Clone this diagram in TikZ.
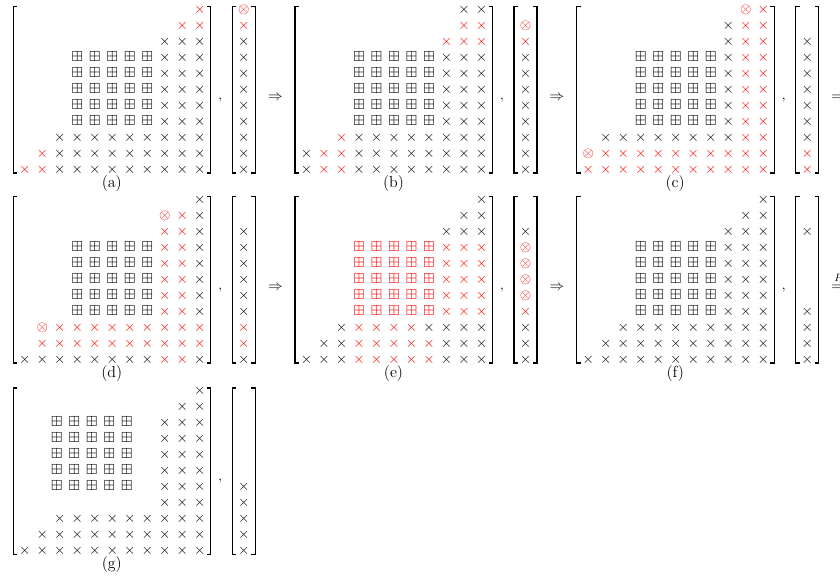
\documentclass[tikz,border=0pt]{standalone}
\usepackage{amssymb}
\usepackage{tikz}
\colorlet{hlred}{red}

\begin{document}
\begin{tikzpicture}[x=0.75pt, y=-0.75pt,
  every node/.style={inner sep=0pt},
  cell/.style={anchor=base, font=\fontsize{10.95}{13}\selectfont},
  sym x/.style={cell, node contents={$\times$}},
  sym r/.style={cell, text=hlred, node contents={$\times$}},
  sym b/.style={cell, node contents={$\boxplus$}},
  sym B/.style={cell, text=hlred, node contents={$\boxplus$}},
  sym g/.style={sym b, xshift=-2.25pt},
  sym o/.style={cell, text=hlred, node contents={$\otimes$}},
  brk/.style={line width=0.8pt},
  sublabel/.style={font=\large},
  stepto/.style={anchor=base, font=\fontsize{10.95}{13}\selectfont}
]
  \useasboundingbox (0,0) rectangle (840,579);

  % Macros for one panel (origin = left bracket, first row)
  % Codes: . empty, x cross, r red cross, b/B boxplus, g shifted boxplus, o red otimes
  \newcommand{\mrow}[3]{%
    \foreach \t [count=\c] in {#3}{%
      \if.\t\else\node[name=#1-#2-\c, at={({11.5+17.5*(\c-1)},{16*(#2-1)+3.3})}, sym \t];\fi}}
  \newcommand{\mvec}[2]{%
    \foreach \t [count=\c] in {#2}{%
      \if.\t\else\node[name=#1-v-\c, at={(230.5,{16*(\c-1)+3.3})}, sym \t];\fi}}
  \newcommand{\pbrk}{%
    \draw[brk] (4,-3.5) -| (0,163) -- ++(4,0);
    \draw[brk] (193.5,-3.5) -| (197.5,163) -- ++(-4,0);
    \draw[brk] (223,-3.5) -| (219,163) -- ++(4,0);
    \draw[brk] (238,-3.5) -| (242,163) -- ++(-4,0);}
  \newcommand{\pfoot}[2]{%
    \node[anchor=base] (#1-comma) at (207,89) {,};
    \node[sublabel] (#1-label) at (98.5,173.3) {(#2)};}

  % (a)
  \begin{scope}[shift={(13.3,10)}]
    \mrow{a}{1}{.,.,.,.,.,.,.,.,.,.,r}
    \mrow{a}{2}{.,.,.,.,.,.,.,.,.,r,r}
    \mrow{a}{3}{.,.,.,.,.,.,.,.,x,x,x}
    \foreach \r in {4,...,8}{\mrow{a}{\r}{.,.,.,b,b,b,b,b,x,x,x}}
    \mrow{a}{9}{.,.,x,x,x,x,x,x,x,x,x}
    \mrow{a}{10}{.,r,x,x,x,x,x,x,x,x,x}
    \mrow{a}{11}{r,r,x,x,x,x,x,x,x,x,x}
    \mvec{a}{o,r,x,x,x,x,x,x,x,x,x}
    \pbrk
    \pfoot{a}{a}
    \node[stepto] (a-next) at (262,90) {$\Rightarrow$};
  \end{scope}

  % (b)
  \begin{scope}[shift={(295,10)}]
    \mrow{b}{1}{.,.,.,.,.,.,.,.,.,x,x}
    \mrow{b}{2}{.,.,.,.,.,.,.,.,.,r,r}
    \mrow{b}{3}{.,.,.,.,.,.,.,.,r,r,r}
    \foreach \r in {4,...,8}{\mrow{b}{\r}{.,.,.,b,b,b,b,b,x,x,x}}
    \mrow{b}{9}{.,.,r,x,x,x,x,x,x,x,x}
    \mrow{b}{10}{x,r,r,x,x,x,x,x,x,x,x}
    \mrow{b}{11}{x,r,r,x,x,x,x,x,x,x,x}
    \mvec{b}{.,o,r,x,x,x,x,x,x,x,x}
    \pbrk
    \pfoot{b}{b}
    \node[stepto] (b-next) at (262,90) {$\Rightarrow$};
  \end{scope}

  % (c)
  \begin{scope}[shift={(576.7,10)}]
    \mrow{c}{1}{.,.,.,.,.,.,.,.,.,o,r}
    \mrow{c}{2}{.,.,.,.,.,.,.,.,x,r,r}
    \mrow{c}{3}{.,.,.,.,.,.,.,.,x,r,r}
    \foreach \r in {4,...,8}{\mrow{c}{\r}{.,.,.,b,b,b,b,b,x,r,r}}
    \mrow{c}{9}{.,x,x,x,x,x,x,x,x,r,r}
    \mrow{c}{10}{o,r,r,r,r,r,r,r,r,r,r}
    \mrow{c}{11}{r,r,r,r,r,r,r,r,r,r,r}
    \mvec{c}{.,.,x,x,x,x,x,x,x,r,r}
    \pbrk
    \pfoot{c}{c}
    \node[stepto] (c-next) at (262,90) {$\Rightarrow$};
  \end{scope}

  % (d)
  \begin{scope}[shift={(13.3,200)}]
    \mrow{d}{1}{.,.,.,.,.,.,.,.,.,.,x}
    \mrow{d}{2}{.,.,.,.,.,.,.,.,o,r,x}
    \mrow{d}{3}{.,.,.,.,.,.,.,.,r,r,x}
    \foreach \r in {4,...,8}{\mrow{d}{\r}{.,.,.,b,b,b,b,b,r,r,x}}
    \mrow{d}{9}{.,o,r,r,r,r,r,r,r,r,r}
    \mrow{d}{10}{.,r,r,r,r,r,r,r,r,r,r}
    \mrow{d}{11}{x,x,x,x,x,x,x,x,r,r,x}
    \mvec{d}{.,.,x,x,x,x,x,x,r,r,x}
    \pbrk
    \pfoot{d}{d}
    \node[stepto] (d-next) at (262,90) {$\Rightarrow$};
  \end{scope}

  % (e)
  \begin{scope}[shift={(295,200)}]
    \mrow{e}{1}{.,.,.,.,.,.,.,.,.,.,x}
    \mrow{e}{2}{.,.,.,.,.,.,.,.,.,x,x}
    \mrow{e}{3}{.,.,.,.,.,.,.,.,x,x,x}
    \foreach \r in {4,...,8}{\mrow{e}{\r}{.,.,.,B,B,B,B,B,r,r,r}}
    \mrow{e}{9}{.,.,x,r,r,r,r,x,x,x,x}
    \mrow{e}{10}{.,x,x,r,r,r,r,r,x,x,x}
    \mrow{e}{11}{x,x,x,r,r,r,r,r,x,x,x}
    \mvec{e}{.,.,x,o,o,o,o,r,x,x,x}
    \pbrk
    \pfoot{e}{e}
    \node[stepto] (e-next) at (262,90) {$\Rightarrow$};
  \end{scope}

  % (f)
  \begin{scope}[shift={(576.7,200)}]
    \mrow{f}{1}{.,.,.,.,.,.,.,.,.,.,x}
    \mrow{f}{2}{.,.,.,.,.,.,.,.,.,x,x}
    \mrow{f}{3}{.,.,.,.,.,.,.,.,x,x,x}
    \foreach \r in {4,...,8}{\mrow{f}{\r}{.,.,.,b,b,b,b,b,x,x,x}}
    \mrow{f}{9}{.,.,x,x,x,x,x,x,x,x,x}
    \mrow{f}{10}{.,x,x,x,x,x,x,x,x,x,x}
    \mrow{f}{11}{x,x,x,x,x,x,x,x,x,x,x}
    \mvec{f}{.,.,x,.,.,.,.,x,x,x,x}
    \pbrk
    \pfoot{f}{f}
    \node[stepto] (f-next) at (262,90) {$\stackrel{P}{\Rightarrow}$};
  \end{scope}

  % (g)
  \begin{scope}[shift={(13.3,391.5)}]
    \mrow{g}{1}{.,.,.,.,.,.,.,.,.,.,x}
    \mrow{g}{2}{.,.,.,.,.,.,.,.,.,x,x}
    \foreach \r in {3,...,7}{\mrow{g}{\r}{.,.,g,g,g,g,g,.,x,x,x}}
    \mrow{g}{8}{.,.,.,.,.,.,.,.,x,x,x}
    \mrow{g}{9}{.,.,x,x,x,x,x,x,x,x,x}
    \mrow{g}{10}{.,x,x,x,x,x,x,x,x,x,x}
    \mrow{g}{11}{x,x,x,x,x,x,x,x,x,x,x}
    \mvec{g}{.,.,.,.,.,.,x,x,x,x,x}
    \pbrk
    \pfoot{g}{g}
  \end{scope}
\end{tikzpicture}
\end{document}
